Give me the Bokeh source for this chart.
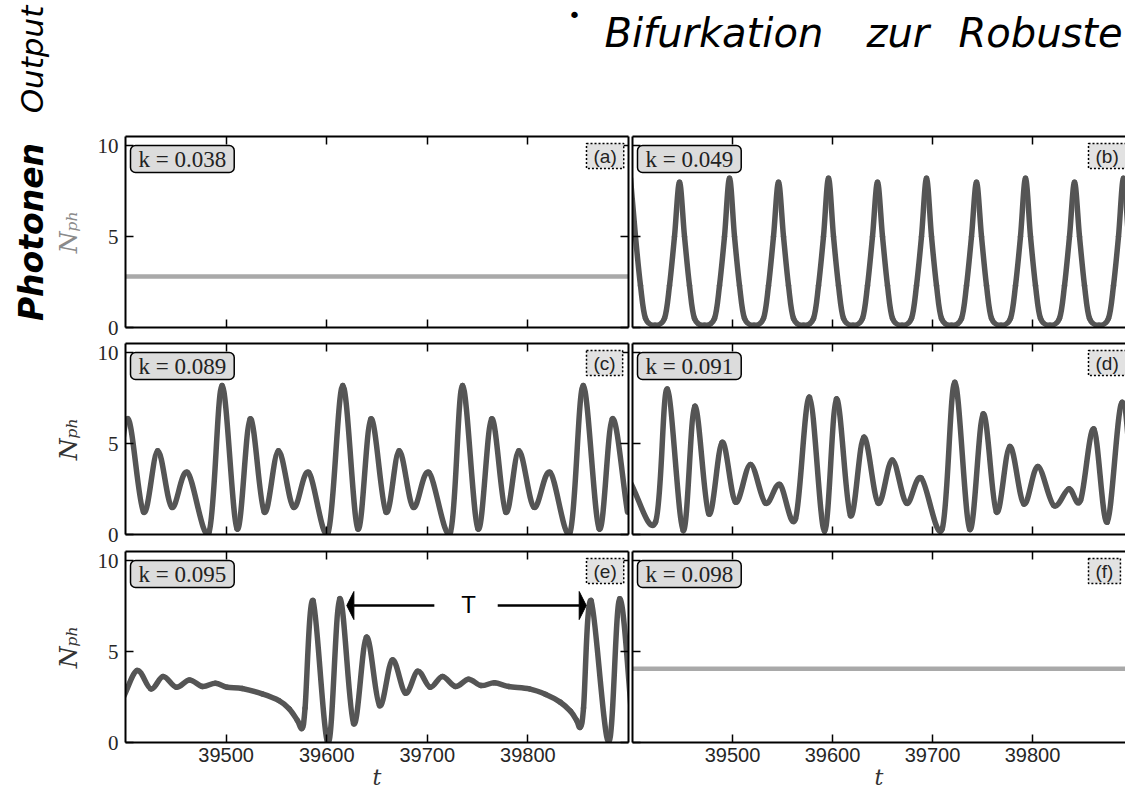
import numpy as np
from bokeh.plotting import figure
from bokeh.models import (Range1d, FixedTicker, Label, LinearAxis, ColumnDataSource,
                          CustomJSTickFormatter)
from bokeh.layouts import column, row
from bokeh.embed import file_html
from bokeh.resources import INLINE

# ---------------- data ----------------
k_values = ["0.038", "0.049", "0.089", "0.091", "0.095", "0.098"]
panel_tags = ["(a)", "(b)", "(c)", "(d)", "(e)", "(f)"]
x_ticks = [39500, 39600, 39700, 39800]
y_ticks = [0, 5, 10]

t_a = [39400, 39900]
n_a = [2.8, 2.8]

t_b = [39398, 39403, 39408, 39413, 39422.5,
       39432, 39437, 39442, 39447, 39452, 39457, 39462, 39472,
       39482, 39487, 39492, 39497, 39502, 39507, 39512, 39521.5,
       39531, 39536, 39541, 39546, 39551, 39556, 39561, 39571,
       39581, 39586, 39591, 39596, 39601, 39606, 39611, 39620.5,
       39630, 39635, 39640, 39645, 39650, 39655, 39660, 39669.5,
       39679, 39684, 39689, 39694, 39699, 39704, 39709, 39719,
       39729, 39734, 39739, 39744, 39749, 39754, 39759, 39768.5,
       39778, 39783, 39788, 39793, 39798, 39803, 39808, 39817.5,
       39827, 39832, 39837, 39842, 39847, 39852, 39857, 39866.5,
       39876, 39881, 39886, 39891, 39896, 39901, 39906]
n_b = [8.2, 5.0, 2.3, 0.5, 0.12,
       0.5, 2.3, 5.0, 7.98, 5.0, 2.3, 0.5, 0.12,
       0.5, 2.3, 5.0, 8.2, 5.0, 2.3, 0.5, 0.12,
       0.5, 2.3, 5.0, 7.98, 5.0, 2.3, 0.5, 0.12,
       0.5, 2.3, 5.0, 8.2, 5.0, 2.3, 0.5, 0.12,
       0.5, 2.3, 5.0, 7.98, 5.0, 2.3, 0.5, 0.12,
       0.5, 2.3, 5.0, 8.2, 5.0, 2.3, 0.5, 0.12,
       0.5, 2.3, 5.0, 7.98, 5.0, 2.3, 0.5, 0.12,
       0.5, 2.3, 5.0, 8.2, 5.0, 2.3, 0.5, 0.12,
       0.5, 2.3, 5.0, 7.98, 5.0, 2.3, 0.5, 0.12,
       0.5, 2.3, 5.0, 8.2, 5.0, 2.3, 0.5]

t_c = [39389, 39402, 39418, 39432, 39446, 39461.5, 39483, 39496, 39511, 39524,
       39538, 39552, 39567, 39582, 39601.5, 39616, 39631, 39644, 39659, 39672,
       39686, 39701.5, 39723, 39735, 39750.5, 39764, 39778, 39791, 39806, 39822,
       39842, 39855, 39871, 39884, 39899]
n_c = [0.3, 6.36, 1.23, 4.6, 1.5, 3.42, 0.13, 8.19, 0.3, 6.36,
       1.23, 4.6, 1.5, 3.42, 0.13, 8.19, 0.3, 6.36, 1.23, 4.6,
       1.5, 3.42, 0.13, 8.19, 0.3, 6.36, 1.23, 4.6, 1.5, 3.42,
       0.13, 8.19, 0.3, 6.36, 1.23]

t_d = [39397, 39423, 39434.7, 39450.7, 39462.3, 39476.3, 39489.7, 39503, 39518, 39533,
       39547.3, 39563, 39577, 39592, 39604, 39618, 39631.3, 39645.7, 39659.7, 39674,
       39688.7, 39709.7, 39722.3, 39737.3, 39750.7, 39764, 39777.3, 39791.3, 39805.3, 39821.3,
       39836.3, 39848, 39861.3, 39874.7, 39889.7, 39903]
n_d = [2.95, 0.68, 8.0, 0.22, 7.05, 1.13, 5.07, 1.78, 3.85, 1.72,
       2.75, 0.86, 7.55, 0.18, 7.45, 1.04, 5.35, 1.72, 4.1, 1.72,
       3.11, 0.31, 8.37, 0.28, 6.63, 1.23, 4.84, 1.68, 3.74, 1.59,
       2.51, 1.87, 5.8, 0.68, 7.27, 0.5]

t_e = [39398, 39411.7, 39425.2, 39437.4, 39450.5, 39463.6, 39476.6, 39489.3, 39501, 39516,
       39536, 39552.6, 39562.8, 39570.9, 39575.5, 39578.5, 39586.4, 39601.5, 39613, 39626.8,
       39639.5, 39652.6, 39665.2, 39678.3, 39690.5, 39702.8, 39715, 39728, 39741, 39753.4,
       39766.8, 39781, 39801.5, 39817.9, 39832.1, 39842.3, 39848.5, 39852, 39855.3, 39862.8,
       39880.3, 39891.3, 39905]
n_e = [2.5, 3.96, 2.95, 3.63, 3.04, 3.44, 3.08, 3.26, 3.04, 2.97,
       2.67, 2.3, 1.85, 1.21, 0.78, 1.9, 7.8, -0.05, 7.9, 1.03,
       5.79, 2.03, 4.54, 2.71, 3.92, 3.04, 3.63, 3.08, 3.48, 3.13,
       3.28, 3.08, 2.95, 2.64, 2.22, 1.72, 1.21, 0.84, 1.9, 7.8,
       0.0, 7.9, 0.3]

t_f = [39400, 39900]
n_f = [4.05, 4.05]

# period marker in panel (e)
period_y = 7.53
period_left_tip = 39620
period_left_tail = 39707
period_right_tail = 39770
period_right_tip = 39858
period_label_t = 39741
period_label_y = 7.6

series = [(t_a, n_a), (t_b, n_b), (t_c, n_c), (t_d, n_d), (t_e, n_e), (t_f, n_f)]
flat_panels = {0, 5}

# ---------------- geometry ----------------
LEFT_W, RIGHT_W = 630, 495
LEFT_BORDER = 125
HEADER_H = 134
FRAME_H = 191
ROW_TOP = [2, 4, 5]
ROW_BOT = [12, 12, 54]
Y_MAX = 10.5

LINE_COLOR = "#555555"
FLAT_COLOR = "#a9a9a9"
TEXT_COLOR = "#262626"


def smooth_segments(t, n):
    """Catmull-Rom control points so that the read points are joined smoothly."""
    t = np.asarray(t, float)
    n = np.asarray(n, float)
    tp = np.concatenate([[2 * t[0] - t[1]], t, [2 * t[-1] - t[-2]]])
    npad = np.concatenate([[2 * n[0] - n[1]], n, [2 * n[-1] - n[-2]]])
    x0, x1 = tp[1:-2], tp[2:-1]
    y0, y1 = npad[1:-2], npad[2:-1]
    cx0 = x0 + (tp[2:-1] - tp[:-3]) / 6.0
    cy0 = y0 + (npad[2:-1] - npad[:-3]) / 6.0
    cx1 = x1 - (tp[3:] - tp[1:-2]) / 6.0
    cy1 = y1 - (npad[3:] - npad[1:-2]) / 6.0
    return dict(x0=x0, y0=y0, x1=x1, y1=y1, cx0=cx0, cy0=cy0, cx1=cx1, cy1=cy1)


def hide_labels(ax):
    ax.formatter = CustomJSTickFormatter(code="return ''")
    ax.major_label_text_font_size = "0px"
    ax.major_label_standoff = 0


def style_axis(ax, ticks, labels, font, size, standoff):
    ax.ticker = FixedTicker(ticks=ticks)
    ax.major_tick_in = 8
    ax.major_tick_out = 0
    ax.minor_tick_in = 0
    ax.minor_tick_out = 0
    ax.major_tick_line_width = 1.5
    ax.major_tick_line_color = "black"
    ax.axis_line_width = 2
    ax.axis_line_color = "black"
    if labels:
        ax.major_label_text_font = font
        ax.major_label_text_font_size = size
        ax.major_label_text_color = TEXT_COLOR
        ax.major_label_standoff = standoff
    else:
        hide_labels(ax)


def make_panel(i):
    r, c = divmod(i, 2)
    left = c == 0
    bottom_row = r == 2
    width = LEFT_W if left else RIGHT_W
    height = ROW_TOP[r] + FRAME_H + ROW_BOT[r]
    x_end = 39900 if left else 39400 + (RIGHT_W - 2)
    p = figure(width=width, height=height,
               x_range=Range1d(39400, x_end), y_range=Range1d(0, Y_MAX),
               output_backend="svg", toolbar_location=None, tools="",
               x_axis_location=None, y_axis_location=None,
               min_border_left=LEFT_BORDER if left else 2,
               min_border_right=2 if left else 0,
               min_border_top=ROW_TOP[r], min_border_bottom=ROW_BOT[r])
    p.outline_line_color = None
    p.grid.grid_line_color = None
    p.background_fill_color = "white"
    p.border_fill_color = "white"

    below = LinearAxis()
    style_axis(below, x_ticks, bottom_row, "Liberation Sans", "20px", 5)
    if bottom_row:
        below.axis_label = "t"
        below.axis_label_text_font = "DejaVu Serif"
        below.axis_label_text_font_style = "italic"
        below.axis_label_text_font_size = "22px"
        below.axis_label_text_color = "#333333"
        below.axis_label_standoff = 0
    p.add_layout(below, "below")
    above = LinearAxis()
    style_axis(above, x_ticks, False, None, None, 0)
    p.add_layout(above, "above")
    lax = LinearAxis()
    style_axis(lax, y_ticks, left, "Liberation Serif", "21px", 7)
    if left:
        lax.axis_label = "N\u209a\u2095"
        lax.axis_label_text_font = "DejaVu Serif"
        lax.axis_label_text_font_style = "italic"
        lax.axis_label_text_font_size = "25px"
        lax.axis_label_text_color = "#8a8a8a" if r == 0 else "#333333"
        lax.axis_label_standoff = 12
    p.add_layout(lax, "left")
    if left:
        rax = LinearAxis()
        style_axis(rax, y_ticks, False, None, None, 0)
        p.add_layout(rax, "right")

    t, n = series[i]
    if i in flat_panels:
        p.line(t, n, line_color=FLAT_COLOR, line_width=4.5)
    else:
        src = ColumnDataSource(smooth_segments(t, n))
        p.bezier(x0="x0", y0="y0", x1="x1", y1="y1", cx0="cx0", cy0="cy0",
                 cx1="cx1", cy1="cy1", source=src, line_color=LINE_COLOR,
                 line_width=5.5, line_cap="round")

    p.add_layout(Label(x=5, y=FRAME_H - 9, x_units="screen", y_units="screen",
                       text="k = " + k_values[i], text_font="Liberation Serif",
                       text_font_size="23px", text_color="#222222",
                       text_align="left", text_baseline="top",
                       background_fill_color="#dcdcdc", background_fill_alpha=1.0,
                       border_line_color="black", border_line_width=1.5,
                       border_radius=5, padding=(8, 1)))
    p.add_layout(Label(x=461 if left else 456, y=FRAME_H - 7, x_units="screen",
                       y_units="screen", text=panel_tags[i],
                       text_font="Liberation Sans", text_font_size="19px",
                       text_color="#222222", text_align="left", text_baseline="top",
                       background_fill_color="#e2e2e2", background_fill_alpha=1.0,
                       border_line_color="black", border_line_width=1.5,
                       border_line_dash="2 2", padding=(7, 2)))
    return p


panels = [make_panel(i) for i in range(6)]

# "Photonen" handwriting in the left margin of panel (a), as an extra bare axis title
note_axis = LinearAxis(axis_label="Photonen")
note_axis.ticker = FixedTicker(ticks=[])
note_axis.major_tick_in = 0
note_axis.major_tick_out = 0
note_axis.minor_tick_in = 0
note_axis.minor_tick_out = 0
note_axis.axis_line_color = None
hide_labels(note_axis)
note_axis.axis_label_text_font = "DejaVu Sans"
note_axis.axis_label_text_font_style = "bold italic"
note_axis.axis_label_text_font_size = "33px"
note_axis.axis_label_text_color = "black"
note_axis.axis_label_standoff = 0
panels[0].add_layout(note_axis, "left")

# period marker in panel (e)
pe = panels[4]
head_len = 7
head_half = 0.77
pe.segment(x0=[period_left_tail, period_right_tail], y0=[period_y, period_y],
           x1=[period_left_tip + head_len, period_right_tip - head_len],
           y1=[period_y, period_y], line_color="black", line_width=2.5)
pe.patches(xs=[[period_left_tip, period_left_tip + head_len, period_left_tip + head_len],
               [period_right_tip, period_right_tip - head_len, period_right_tip - head_len]],
           ys=[[period_y, period_y + head_half, period_y - head_half],
               [period_y, period_y + head_half, period_y - head_half]],
           fill_color="black", line_color="black", line_width=1)
pe.add_layout(Label(x=period_label_t, y=period_label_y, text="T",
                    text_font="Liberation Sans", text_font_size="24px",
                    text_color="black", text_align="center", text_baseline="middle"))

# header with handwritten notes
header = figure(width=LEFT_W + RIGHT_W, height=HEADER_H,
                x_range=Range1d(0, 1), y_range=Range1d(0, 1),
                output_backend="svg", toolbar_location=None, tools="",
                x_axis_location=None, y_axis_location=None, min_border=0)
header.outline_line_color = None
header.grid.grid_line_color = None
header.background_fill_color = "white"
header.border_fill_color = "white"

hand = dict(x_units="screen", y_units="screen", text_font="DejaVu Sans",
            text_font_style="italic", text_color="black")
header.add_layout(Label(x=31, y=HEADER_H - 59, text="Output", text_font_size="31px",
                        angle=np.pi / 2, text_align="center",
                        text_baseline="middle", **hand))
header.add_layout(Label(x=574, y=HEADER_H - 2, text="\u2022", text_font_size="22px",
                        text_align="center", text_baseline="top", **hand))
for word, xpos in [("Bifurkation", 604), ("zur", 866), ("Robuste", 958)]:
    header.add_layout(Label(x=xpos, y=HEADER_H - 32, text=word,
                            text_font_size="40px", text_align="left",
                            text_baseline="alphabetic", **hand))

layout = column(header,
                row(panels[0], panels[1]),
                row(panels[2], panels[3]),
                row(panels[4], panels[5]))

open("out.html", "w").write(file_html(layout, INLINE))
